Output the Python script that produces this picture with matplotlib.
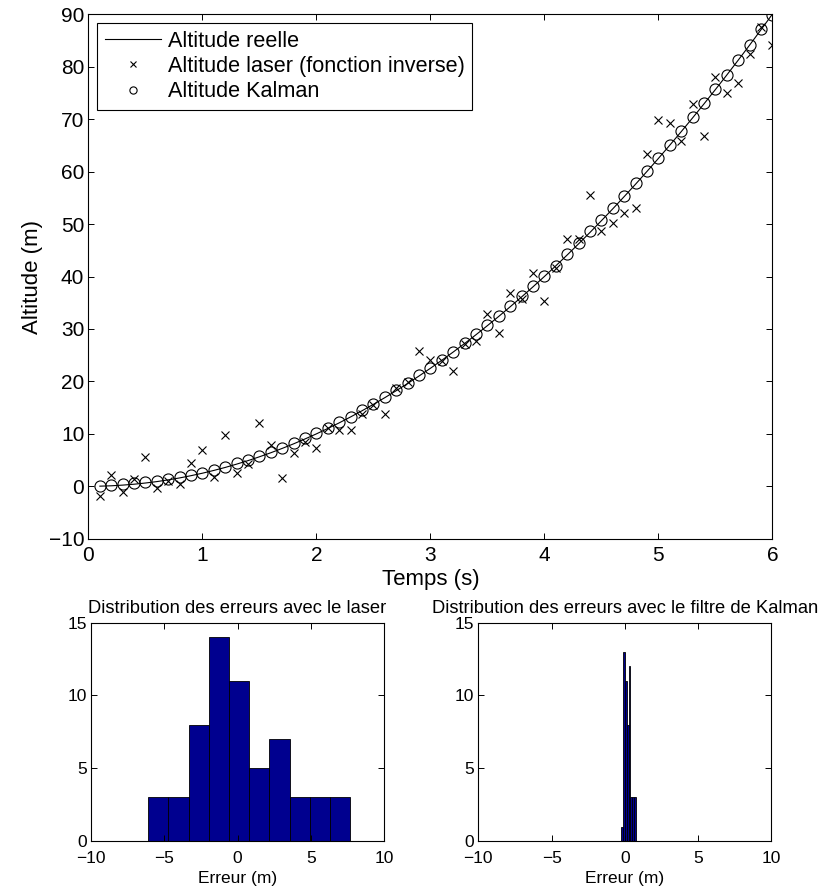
import numpy as np
import matplotlib
matplotlib.use('Agg')
import matplotlib.pyplot as plt

plt.rcParams['font.family'] = ['Liberation Sans', 'DejaVu Sans']

# Temps de mesure (s)
temps = [0.1, 0.2, 0.3, 0.4, 0.5, 0.6, 0.7, 0.8, 0.9, 1.0,
         1.1, 1.2, 1.3, 1.4, 1.5, 1.6, 1.7, 1.8, 1.9, 2.0,
         2.1, 2.2, 2.3, 2.4, 2.5, 2.6, 2.7, 2.8, 2.9, 3.0,
         3.1, 3.2, 3.3, 3.4, 3.5, 3.6, 3.7, 3.8, 3.9, 4.0,
         4.1, 4.2, 4.3, 4.4, 4.5, 4.6, 4.7, 4.8, 4.9, 5.0,
         5.1, 5.2, 5.3, 5.4, 5.5, 5.6, 5.7, 5.8, 5.9, 6.0]

# Altitude reelle (m)
alt_reelle = [0.03, 0.1, 0.23, 0.4, 0.63, 0.9, 1.23, 1.6, 2.03, 2.5,
              3.03, 3.6, 4.23, 4.9, 5.63, 6.4, 7.23, 8.1, 9.03, 10.0,
              11.03, 12.1, 13.23, 14.4, 15.63, 16.9, 18.23, 19.6, 21.03, 22.5,
              24.03, 25.6, 27.23, 28.9, 30.63, 32.4, 34.23, 36.1, 38.03, 40.0,
              42.03, 44.1, 46.23, 48.4, 50.63, 52.9, 55.23, 57.6, 60.03, 62.5,
              65.03, 67.6, 70.23, 72.9, 75.63, 78.4, 81.23, 84.1, 87.03, 90.0]

# Altitude laser (fonction inverse)
alt_laser = [-1.8, 2.2, -1.0, 1.3, 5.6, -0.3, 1.1, 0.5, 4.5, 6.9,
             1.8, 9.8, 2.5, 4.3, 12.0, 7.8, 1.6, 6.4, 8.5, 7.4,
             11.1, 10.7, 10.7, 13.7, 15.5, 13.8, 18.8, 19.9, 25.8, 24.0,
             23.9, 22.0, 27.1, 27.7, 32.9, 29.3, 36.8, 35.7, 40.6, 35.3,
             41.7, 47.2, 47.1, 55.6, 48.7, 50.2, 52.1, 53.0, 63.3, 69.9,
             69.3, 65.8, 72.9, 66.7, 78.1, 74.9, 76.9, 82.4, 87.5, 84.2]

# Altitude estimee par le filtre de Kalman
alt_kalman = [0.0, 0.2, 0.4, 0.6, 0.8, 1.0, 1.4, 1.8, 2.2, 2.6,
              3.1, 3.7, 4.4, 5.1, 5.8, 6.6, 7.3, 8.2, 9.2, 10.1,
              11.1, 12.2, 13.3, 14.5, 15.7, 17.0, 18.3, 19.7, 21.2, 22.6,
              24.1, 25.7, 27.3, 29.0, 30.8, 32.5, 34.4, 36.2, 38.2, 40.1,
              42.1, 44.2, 46.4, 48.6, 50.8, 53.0, 55.4, 57.8, 60.2, 62.6,
              65.1, 67.7, 70.4, 73.0, 75.8, 78.5, 81.3, 84.2, 87.1, 89.9]

# Histogrammes des erreurs (effectifs par classe)
hist_laser = [3, 3, 8, 14, 11, 5, 7, 3, 3, 3]
bornes_laser = (-6.1, 7.7)
hist_kalman = [1, 13, 11, 8, 12, 3, 3, 3]
bornes_kalman = (-0.25, 0.75)

BLEU = '#00008f'


def style_axes(ax, size, xpad=5):
    ax.tick_params(direction='in', top=True, right=True, labelsize=size,
                   length=4, width=0.7)
    ax.tick_params(axis='x', pad=xpad)
    ax.tick_params(axis='y', pad=3)
    for s in ax.spines.values():
        s.set_linewidth(0.8)


def histo(ax, counts, bornes, titre):
    edges = np.linspace(bornes[0], bornes[1], len(counts) + 1)
    ax.bar(edges[:-1], counts, width=np.diff(edges), align='edge',
           color=BLEU, edgecolor='black', linewidth=0.6)
    ax.set_xlim(-10, 10)
    ax.set_ylim(0, 15)
    ax.set_xticks([-10, -5, 0, 5, 10])
    ax.set_yticks([0, 5, 10, 15])
    ax.set_xlabel('Erreur (m)', fontsize=12.5, labelpad=4)
    ax.set_title(titre, fontsize=13.2, pad=7)
    style_axes(ax, 12.5, xpad=7)


fig = plt.figure(figsize=(8.19, 8.92), dpi=100)

ax = fig.add_axes([0.108, 0.396, 0.835, 0.588])
ax.plot(temps, alt_reelle, 'k-', linewidth=0.8, label='Altitude reelle')
ax.plot(temps, alt_laser, 'kx', markersize=6, markeredgewidth=0.8,
        label='Altitude laser (fonction inverse)')
ax.plot(temps, alt_kalman, 'ko', markersize=8, markerfacecolor='none',
        markeredgewidth=0.8, label='Altitude Kalman')
ax.set_xlim(0, 6)
ax.set_ylim(-10, 90)
ax.set_xticks(range(0, 7))
ax.set_yticks(range(-10, 91, 10))
ax.set_xlabel('Temps (s)', fontsize=16, labelpad=3)
ax.set_ylabel('Altitude (m)', fontsize=16, labelpad=4)
style_axes(ax, 15)
leg = ax.legend(loc='upper left', fontsize=15.6, frameon=True, fancybox=False,
                framealpha=1, edgecolor='black', borderaxespad=0.4,
                handlelength=2.6, handletextpad=0.3, borderpad=0.35,
                labelspacing=0.2, markerscale=0.65)
leg.get_frame().set_linewidth(0.8)

ax1 = fig.add_axes([0.111, 0.057, 0.358, 0.245])
histo(ax1, hist_laser, bornes_laser, 'Distribution des erreurs avec le laser')

ax2 = fig.add_axes([0.584, 0.057, 0.358, 0.245])
histo(ax2, hist_kalman, bornes_kalman,
      'Distribution des erreurs avec le filtre de Kalman')

fig.savefig('out.png', dpi=100)
